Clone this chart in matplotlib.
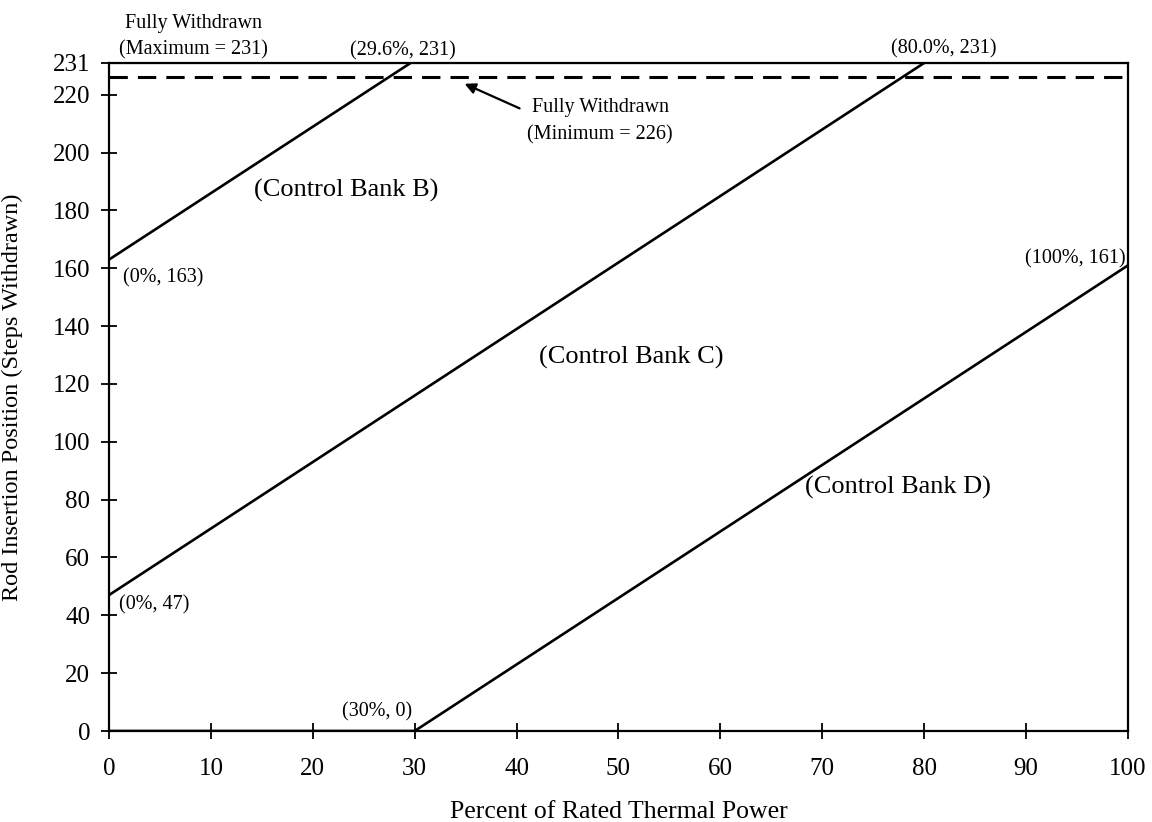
import matplotlib
matplotlib.use("Agg")
import matplotlib.pyplot as plt

plt.rcParams['font.family'] = ['Liberation Serif', 'DejaVu Serif']

# rod insertion limits vs. thermal power
bank_b_power = [0, 29.6]
bank_b_steps = [163, 231]
bank_c_power = [0, 80.0]
bank_c_steps = [47, 231]
bank_d_power = [0, 30, 100]
bank_d_steps = [0, 0, 161]

full_out_max = 231
full_out_min = 226

x_ticks = [0, 10, 20, 30, 40, 50, 60, 70, 80, 90, 100]
y_ticks = [0, 20, 40, 60, 80, 100, 120, 140, 160, 180, 200, 220, 231]

fig = plt.figure(figsize=(11.52, 8.22), dpi=100)
ax = fig.add_axes([0.0946, 0.1107, 0.8845, 0.8127])

lw = 1.9
ax.plot(bank_b_power, bank_b_steps, color='black', lw=lw)
ax.plot(bank_c_power, bank_c_steps, color='black', lw=lw)
ax.plot(bank_d_power, bank_d_steps, color='black', lw=lw)
ax.axhline(full_out_min, color='black', lw=2.2, ls=(0, (6, 3.3)))
ax.axhline(full_out_max, color='black', lw=1.5)

ax.set_xlim(0, 100)
ax.set_ylim(0, 231)
ax.set_xticks(x_ticks)
ax.set_yticks(y_ticks)
ax.tick_params(direction='inout', length=11, width=1.3, labelsize=18)
ax.tick_params(axis='y', pad=8)
ax.tick_params(axis='x', pad=14)
for s in ax.spines.values():
    s.set_linewidth(1.6)

ax.set_xlabel('Percent of Rated Thermal Power', fontsize=18.5, va='baseline')
ax.xaxis.set_label_coords(0.5, -0.130)
ax.set_ylabel('Rod Insertion Position (Steps Withdrawn)', fontsize=17.5)
ax.yaxis.set_label_coords(-0.0844, 0.5)

small = 14.5
big = 19
ax.text(8.3, 244.8, 'Fully Withdrawn', fontsize=small, ha='center', va='center', clip_on=False)
ax.text(8.3, 235.5, '(Maximum = 231)', fontsize=small, ha='center', va='center', clip_on=False)
ax.text(28.8, 235.3, '(29.6%, 231)', fontsize=small, ha='center', va='center', clip_on=False)
ax.text(81.9, 235.8, '(80.0%, 231)', fontsize=small, ha='center', va='center', clip_on=False)

ax.annotate('', xy=(34.9, 223.8), xytext=(40.3, 215.3),
            arrowprops=dict(arrowstyle='-|>', color='black', lw=1.6,
                            mutation_scale=16, shrinkA=0, shrinkB=0))
ax.text(41.5, 215.5, 'Fully Withdrawn', fontsize=small, ha='left', va='center')
ax.text(41.0, 206.1, '(Minimum = 226)', fontsize=small, ha='left', va='center')

ax.text(23.3, 186.8, '(Control Bank B)', fontsize=big, ha='center', va='center')
ax.text(51.3, 129.1, '(Control Bank C)', fontsize=big, ha='center', va='center')
ax.text(77.4, 84.3, '(Control Bank D)', fontsize=big, ha='center', va='center')

ax.text(1.4, 156.8, '(0%, 163)', fontsize=small, ha='left', va='center')
ax.text(1.0, 43.5, '(0%, 47)', fontsize=small, ha='left', va='center')
ax.text(29.8, 6.5, '(30%, 0)', fontsize=small, ha='right', va='center')
ax.text(94.8, 163.3, '(100%, 161)', fontsize=small, ha='center', va='center')

fig.savefig('out.png', dpi=100)
